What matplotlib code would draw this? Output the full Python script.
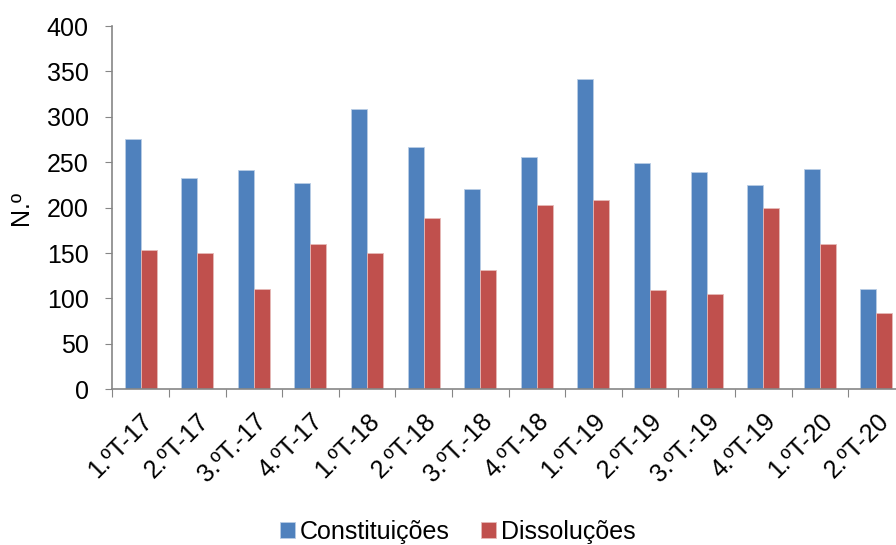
import matplotlib.pyplot as plt
import numpy as np

plt.rcParams["font.family"] = ["Liberation Sans", "DejaVu Sans"]

quarters = [
    "1.ºT-17", "2.ºT-17", "3.ºT.-17", "4.ºT-17",
    "1.ºT-18", "2.ºT-18", "3.ºT.-18", "4.ºT-18",
    "1.ºT-19", "2.ºT-19", "3.ºT.-19", "4.ºT-19",
    "1.ºT-20", "2.ºT-20",
]
constituicoes = [276, 233, 241, 227, 309, 267, 221, 256, 342, 249, 239, 225, 243, 110]
dissolucoes = [153, 150, 110, 160, 150, 189, 131, 203, 208, 109, 105, 200, 160, 84]
y_ticks = [0, 50, 100, 150, 200, 250, 300, 350, 400]

blue = "#4F81BD"
red = "#C0504D"
axis_grey = "#868686"
font_size = 18


def plot_quarterly_counts(save_path="out.png"):
    fig = plt.figure(figsize=(8.96, 5.45), dpi=100)
    ax = fig.add_axes([112.3 / 896, 1 - 389.3 / 545, 792.4 / 896, 363.3 / 545])

    x = np.arange(len(quarters))
    width = 0.283

    ax.bar(
        x - width / 2, constituicoes, width,
        color=blue, edgecolor="#B9CDE5", linewidth=0.6,
        label="Constituições",
    )
    ax.bar(
        x + width / 2, dissolucoes, width,
        color=red, edgecolor="#E6B9B8", linewidth=0.6,
        label="Dissoluções",
    )

    ax.set_xlim(-0.5, len(quarters) - 0.5)
    ax.set_ylim(0, 400)
    ax.set_yticks(y_ticks)
    ax.tick_params(axis="y", labelsize=font_size, length=5, color=axis_grey, pad=12)

    # category ticks sit between groups, labels at group centres
    ax.set_xticks(np.arange(len(quarters) + 1) - 0.5)
    ax.set_xticklabels([])
    ax.set_xticks(x, minor=True)
    ax.set_xticklabels(
        quarters, minor=True, rotation=45, ha="right",
        rotation_mode="anchor", fontsize=font_size,
    )
    ax.tick_params(axis="x", which="major", length=6, color=axis_grey)
    ax.tick_params(axis="x", which="minor", length=0, pad=14)

    for side in ("top", "right"):
        ax.spines[side].set_visible(False)
    for side in ("left", "bottom"):
        ax.spines[side].set_color(axis_grey)
        ax.spines[side].set_linewidth(1.2)

    ax.set_ylabel("N.º", fontsize=font_size, labelpad=10)

    fig.legend(
        loc="center",
        bbox_to_anchor=(457.5 / 896, 1 - 532 / 545),
        ncol=2,
        frameon=False,
        fontsize=font_size,
        handlelength=0.6,
        handleheight=0.6,
        handletextpad=0.2,
        columnspacing=1.25,
    )

    fig.savefig(save_path, dpi=100)
    return fig


plot_quarterly_counts()
